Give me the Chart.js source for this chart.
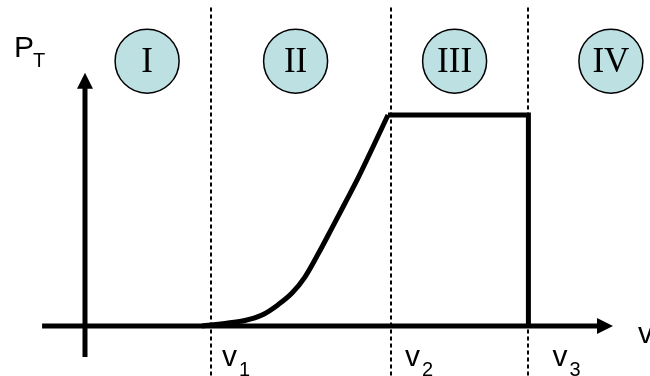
<!DOCTYPE html>
<html>
<head>
<meta charset="utf-8">
<script src="https://cdn.jsdelivr.net/npm/chart.js@4"></script>
<style>
  html, body { margin: 0; padding: 0; background: #fff; overflow: hidden; }
  canvas { display: block; }
</style>
</head>
<body>
<canvas id="powerCurve" width="650" height="376"></canvas>
<script>
  // Power curve: wind speed (arbitrary units) vs turbine power (rated = 1)
  const speeds = [3.9, 4.77, 5.33, 5.9, 6.43, 6.9, 7.33, 7.77, 8.23, 8.67, 9.07, 9.57, 10.1];
  const power = [0, 0.014, 0.026, 0.052, 0.1, 0.156, 0.232, 0.341, 0.464, 0.583, 0.692, 0.84, 1.0];
  // rated part and cut-out drop
  const ratedSpeeds = [10.1, 14.78, 14.78];
  const ratedPower = [1.0, 1.0, 0];
  // characteristic speeds v1, v2, v3
  const cutSpeeds = [4.2, 10.2, 14.78];
  const cutLabels = ['1', '2', '3'];
  // operating regions
  const regionLabels = ['I', 'II', 'III', 'IV'];
  const regionCenters = [2.07, 7.02, 12.32, 17.53];
  const regionLevel = 1.255;
  // extent of the drawn axes
  const xAxisRange = [-1.43, 17.6];
  const yAxisRange = [-0.147, 1.2];

  const serif = "'Times New Roman', 'Liberation Serif', serif";
  const sans = "Arial, 'Liberation Sans', sans-serif";

  // Draws arrows, dashed speed markers, region circles and labels
  const diagramPlugin = {
    id: 'diagram',
    beforeDatasetsDraw(chart) {
      const ctx = chart.ctx;
      const x = chart.scales.x, y = chart.scales.y;
      const x0 = x.getPixelForValue(0), y0 = y.getPixelForValue(0);
      ctx.save();

      // dashed vertical lines
      ctx.strokeStyle = '#000';
      ctx.lineWidth = 2;
      ctx.setLineDash([4, 3]);
      cutSpeeds.forEach(v => {
        const px = Math.round(x.getPixelForValue(v));
        ctx.beginPath();
        ctx.moveTo(px, y.getPixelForValue(1.51));
        ctx.lineTo(px, chart.height);
        ctx.stroke();
      });
      ctx.setLineDash([]);

      // axes with arrow heads
      ctx.strokeStyle = '#000';
      ctx.fillStyle = '#000';
      ctx.lineWidth = 5;
      const xEnd = x.getPixelForValue(xAxisRange[1]);
      const yEnd = y.getPixelForValue(yAxisRange[1]);
      ctx.beginPath();
      ctx.moveTo(x.getPixelForValue(xAxisRange[0]), y0);
      ctx.lineTo(xEnd - 12, y0);
      ctx.moveTo(x0, y.getPixelForValue(yAxisRange[0]));
      ctx.lineTo(x0, yEnd + 12);
      ctx.stroke();
      ctx.beginPath();
      ctx.moveTo(xEnd, y0);
      ctx.lineTo(xEnd - 16, y0 - 8);
      ctx.lineTo(xEnd - 16, y0 + 8);
      ctx.closePath();
      ctx.moveTo(x0, yEnd);
      ctx.lineTo(x0 - 8, yEnd + 16);
      ctx.lineTo(x0 + 8, yEnd + 16);
      ctx.closePath();
      ctx.fill();

      // region circles
      const cy = y.getPixelForValue(regionLevel);
      regionLabels.forEach((lab, i) => {
        const cx = x.getPixelForValue(regionCenters[i]);
        ctx.beginPath();
        ctx.arc(cx, cy, 32, 0, Math.PI * 2);
        ctx.fillStyle = '#bde0e3';
        ctx.fill();
        ctx.lineWidth = 1.5;
        ctx.strokeStyle = '#000';
        ctx.stroke();
        ctx.fillStyle = '#000';
        ctx.font = '35px ' + serif;
        ctx.textAlign = 'center';
        ctx.textBaseline = 'middle';
        ctx.fillText(lab, cx, cy + 2);
      });

      // axis labels
      ctx.textAlign = 'left';
      ctx.textBaseline = 'alphabetic';
      ctx.fillStyle = '#000';
      ctx.font = '30px ' + sans;
      ctx.fillText('P', 14, 57);
      ctx.font = '20px ' + sans;
      ctx.fillText('T', 33, 67);
      ctx.font = '30px ' + sans;
      ctx.fillText('v', xEnd + 25, 343);

      const offsets = [11, 14, 24];
      cutSpeeds.forEach((v, i) => {
        const px = x.getPixelForValue(v) + offsets[i];
        ctx.font = '30px ' + sans;
        ctx.fillText('v', px, 366);
        ctx.font = '20px ' + sans;
        ctx.fillText(cutLabels[i], px + 17, 376);
      });
      ctx.restore();
    }
  };

  const ctx = document.getElementById('powerCurve').getContext('2d');

  new Chart(ctx, {
    type: 'line',
    data: {
      datasets: [
        {
          label: 'Power curve',
          data: speeds.map((s, i) => ({ x: s, y: power[i] })),
          borderColor: '#000',
          borderWidth: 5,
          pointRadius: 0,
          cubicInterpolationMode: 'monotone',
          fill: false
        },
        {
          label: 'Rated power',
          data: ratedSpeeds.map((s, i) => ({ x: s, y: ratedPower[i] })),
          borderColor: '#000',
          borderWidth: 5,
          pointRadius: 0,
          tension: 0,
          borderJoinStyle: 'miter',
          fill: false
        }
      ]
    },
    options: {
      responsive: false,
      animation: false,
      layout: { padding: 0 },
      scales: {
        x: { type: 'linear', min: -2.833, max: 18.833, display: false },
        y: { type: 'linear', min: -0.237, max: 1.545, display: false }
      },
      plugins: {
        legend: { display: false },
        tooltip: { enabled: false }
      }
    },
    plugins: [diagramPlugin]
  });
</script>
</body>
</html>
